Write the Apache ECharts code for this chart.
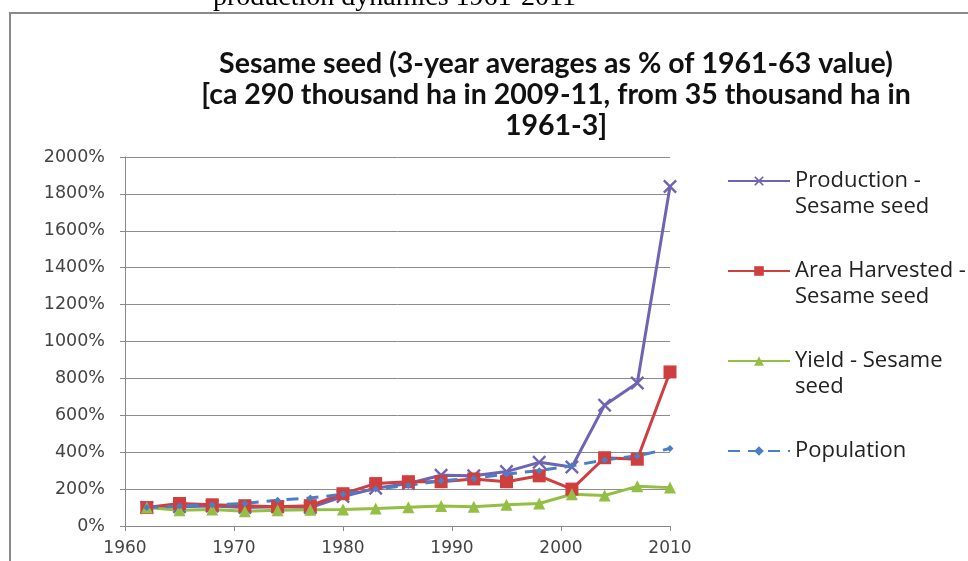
<!DOCTYPE html>
<html>
<head>
<meta charset="utf-8">
<script src="https://cdn.jsdelivr.net/npm/echarts@6/dist/echarts.min.js"></script>
<style>
html,body{margin:0;padding:0;background:#fff;}
#chart{width:968px;height:561px;}
</style>
</head>
<body>
<div id="chart"></div>
<script>
var years = [1962,1965,1968,1971,1974,1977,1980,1983,1986,1989,1992,1995,1998,2001,2004,2007,2010];
var production = [100,105,108,100,105,100,160,205,230,275,272,295,345,320,655,775,1840];
var areaHarvested = [100,122,115,110,105,110,175,230,240,240,255,240,272,200,370,362,835];
var yieldVals = [100,85,90,80,85,88,90,95,102,108,105,115,122,172,165,215,208];
var population = [100,108,115,122,140,152,172,200,220,245,258,282,300,326,358,380,420];
var seriesNames = ['Production - Sesame seed','Area Harvested - Sesame seed','Yield - Sesame seed','Population'];
var legendLabels = {
  'Production - Sesame seed': '\nProduction -\nSesame seed',
  'Area Harvested - Sesame seed': '\nArea Harvested -\nSesame seed',
  'Yield - Sesame seed': '\nYield - Sesame\nseed',
  'Population': '\nPopulation\n'
};
var titleText = 'Sesame seed (3-year averages as % of 1961-63 value)\n[ca 290 thousand ha in 2009-11, from 35 thousand ha in\n1961-3]';
var headerText = 'production dynamics 1961-2011';

function pairs(vals){ return years.map(function(y,i){ return [y, vals[i]]; }); }

var xMark = 'path://M0,1.2 L1.2,0 L5,3.8 L8.8,0 L10,1.2 L6.2,5 L10,8.8 L8.8,10 L5,6.2 L1.2,10 L0,8.8 L3.8,5 Z';

var chart = echarts.init(document.getElementById('chart'));
chart.setOption({
  backgroundColor: '#ffffff',
  animation: false,
  title: {
    text: titleText,
    left: 551, top: 43, textAlign: 'center',
    textStyle: {fontFamily: 'Lato', fontWeight: 'bold', fontSize: 28.5, lineHeight: 31, color: '#111'}
  },
  graphic: [
    {type: 'rect', shape: {x: 10, y: 13, width: 980, height: 600}, style: {fill: 'none', stroke: '#8a8a8a', lineWidth: 2}, z: 0},
    {type: 'text', left: 213, top: -16, style: {text: headerText, font: '28px "Liberation Serif"', fill: '#000'}}
  ],
  grid: {left: 125, right: 298, top: 157, bottom: 35, containLabel: false},
  legend: {
    orient: 'vertical', left: 727, top: 142, padding: 0,
    itemWidth: 62, itemHeight: 12, itemGap: 12,
    data: seriesNames,
    formatter: function(n){ return legendLabels[n]; },
    textStyle: {fontFamily: 'Open Sans', fontSize: 22, lineHeight: 26, color: '#222', padding: [0,0,0,0]}
  },
  xAxis: {
    type: 'value', min: 1960, max: 2010, interval: 10,
    axisLine: {lineStyle: {color: '#888', width: 1}},
    axisTick: {show: true, length: 5, lineStyle: {color: '#888'}},
    axisLabel: {fontFamily: 'DejaVu Sans', fontSize: 17, color: '#444', margin: 14,
      formatter: function(v){ return String(v); }},
    splitLine: {show: false}
  },
  yAxis: {
    type: 'value', min: 0, max: 2000, interval: 200,
    axisLine: {show: true, lineStyle: {color: '#888', width: 1}},
    axisTick: {show: true, length: 5, lineStyle: {color: '#888'}},
    axisLabel: {fontFamily: 'DejaVu Sans', fontSize: 17.5, color: '#444', margin: 20,
      formatter: function(v){ return String(v) + '%'; }},
    splitLine: {show: true, lineStyle: {color: '#8c8c8c', width: 1}}
  },
  series: [
    {name: seriesNames[0], type: 'line', data: pairs(production), color: '#6f63b3',
     lineStyle: {width: 3}, symbol: xMark, symbolSize: 14, itemStyle: {color: '#6f63b3'}},
    {name: seriesNames[1], type: 'line', data: pairs(areaHarvested), color: '#cf3f3f',
     lineStyle: {width: 3}, symbol: 'rect', symbolSize: 13, itemStyle: {color: '#cf3f3f'}},
    {name: seriesNames[2], type: 'line', data: pairs(yieldVals), color: '#93bf45',
     lineStyle: {width: 3}, symbol: 'triangle', symbolSize: 12, itemStyle: {color: '#93bf45'}},
    {name: seriesNames[3], type: 'line', data: pairs(population), color: '#4a7fc6',
     lineStyle: {width: 3, type: [12, 8]}, symbol: 'diamond', symbolSize: 7, itemStyle: {color: '#4a7fc6'}}
  ]
});
</script>
</body>
</html>
